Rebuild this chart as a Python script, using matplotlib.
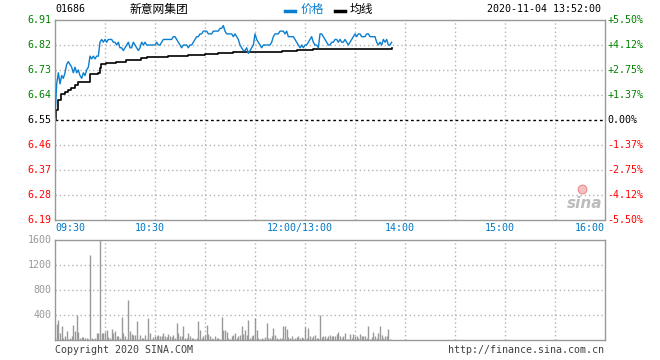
import matplotlib
matplotlib.use('Agg')
import matplotlib.pyplot as plt
import matplotlib.transforms as mtransforms
import numpy as np

# ---------------------------------------------------------------- data
code = '01686'
name = '新意网集团'
stamp = '2020-11-04 13:52:00'
prev_close = 6.55

price_ticks = [6.19, 6.28, 6.37, 6.46, 6.55, 6.64, 6.73, 6.82, 6.91]
pct_labels = ['-5.50%', '-4.12%', '-2.75%', '-1.37%', '0.00%',
              '+1.37%', '+2.75%', '+4.12%', '+5.50%']
time_ticks = [0, 60, 150, 210, 270, 330]
time_labels = ['09:30', '10:30', '12:00/13:00', '14:00', '15:00', '16:00']
vol_ticks = [400, 800, 1200, 1600]

# one value per minute, 09:30 .. 13:52 (lunch removed)
price = [6.56, 6.68, 6.72, 6.68, 6.71, 6.70, 6.72, 6.75, 6.76, 6.75,
         6.74, 6.72, 6.74, 6.72, 6.73, 6.71, 6.70, 6.72, 6.71, 6.73,
         6.74, 6.78, 6.77, 6.78, 6.77, 6.78, 6.78, 6.83, 6.84, 6.83,
         6.84, 6.83, 6.84, 6.84, 6.84, 6.83, 6.83, 6.82, 6.83, 6.81,
         6.81, 6.80, 6.81, 6.82, 6.83, 6.81, 6.81, 6.83, 6.82, 6.81,
         6.80, 6.81, 6.83, 6.82, 6.83, 6.82, 6.82, 6.82, 6.82, 6.82,
         6.82, 6.83, 6.82, 6.82, 6.83, 6.84, 6.84, 6.84, 6.84, 6.84,
         6.84, 6.85, 6.85, 6.84, 6.83, 6.82, 6.81, 6.82, 6.82, 6.82,
         6.81, 6.82, 6.82, 6.83, 6.84, 6.85, 6.85, 6.86, 6.86, 6.87,
         6.87, 6.87, 6.86, 6.86, 6.86, 6.87, 6.87, 6.87, 6.87, 6.88,
         6.88, 6.89, 6.87, 6.86, 6.86, 6.86, 6.86, 6.85, 6.86, 6.85,
         6.84, 6.82, 6.81, 6.80, 6.80, 6.81, 6.79, 6.80, 6.81, 6.82,
         6.86, 6.84, 6.83, 6.82, 6.81, 6.82, 6.82, 6.82, 6.82, 6.82,
         6.83, 6.85, 6.86, 6.86, 6.86, 6.87, 6.87, 6.87, 6.86, 6.87,
         6.85, 6.85, 6.85, 6.85, 6.84, 6.83, 6.82, 6.81, 6.82, 6.81,
         6.82, 6.82, 6.83, 6.84, 6.85, 6.83, 6.82, 6.82, 6.81, 6.86,
         6.86, 6.85, 6.84, 6.83, 6.82, 6.82, 6.83, 6.83, 6.84, 6.84,
         6.83, 6.84, 6.83, 6.83, 6.84, 6.83, 6.82, 6.83, 6.84, 6.85,
         6.86, 6.85, 6.86, 6.86, 6.85, 6.85, 6.85, 6.86, 6.86, 6.85,
         6.85, 6.85, 6.85, 6.83, 6.82, 6.83, 6.82, 6.84, 6.83, 6.84,
         6.82, 6.82, 6.83]

# average line, read at its steps (minute, price)
avg_min = [0, 0.4, 1.8, 3.8, 5.8, 7.8, 9.8, 11.8, 13.8, 19.8, 20.8, 25.8,
           26.8, 27.8, 30.8, 36.8, 42.8, 51.8, 55, 68, 80, 90, 98, 102,
           107, 136, 145, 155, 180.6, 202]
avg_val = [6.55, 6.586, 6.622, 6.644, 6.652, 6.658, 6.665, 6.676, 6.688,
           6.688, 6.716, 6.72, 6.737, 6.752, 6.755, 6.76, 6.766, 6.772,
           6.776, 6.78, 6.784, 6.788, 6.79, 6.792, 6.796, 6.798, 6.802,
           6.804, 6.806, 6.808]

volume = [0, 256, 320, 110, 224, 30, 70, 150, 20, 40,
          70, 235, 150, 395, 130, 30, 50, 50, 25, 40,
          20, 1360, 40, 20, 40, 110, 110, 1600, 110, 120,
          130, 160, 50, 40, 170, 120, 140, 60, 60, 40,
          370, 110, 60, 20, 640, 150, 90, 80, 80, 300,
          20, 80, 40, 40, 80, 20, 360, 120, 20, 50,
          60, 60, 80, 60, 70, 120, 60, 50, 90, 65,
          50, 80, 40, 280, 120, 60, 70, 224, 40, 30,
          110, 60, 30, 40, 20, 40, 310, 160, 40, 70,
          80, 245, 100, 60, 40, 20, 70, 40, 40, 20,
          370, 160, 160, 130, 40, 20, 70, 80, 120, 30,
          60, 80, 230, 90, 160, 80, 320, 40, 60, 80,
          360, 160, 30, 20, 30, 20, 50, 270, 40, 30,
          60, 190, 80, 40, 20, 40, 30, 220, 230, 170,
          50, 40, 60, 20, 30, 50, 60, 40, 50, 40,
          210, 30, 200, 70, 40, 60, 80, 30, 40, 400,
          50, 70, 60, 40, 70, 80, 60, 60, 60, 100,
          130, 70, 40, 70, 120, 20, 20, 90, 40, 100,
          70, 60, 40, 100, 60, 60, 60, 40, 224, 20,
          50, 130, 60, 40, 110, 224, 80, 40, 60, 60,
          180, 20, 0]

# ---------------------------------------------------------------- style
W, H = 660, 360
mono = 'DejaVu Sans Mono'
cjk = ['Noto Sans CJK SC', 'DejaVu Sans']
green, red, blue = '#008000', '#ff0000', '#0a7fcf'
frame = '#999999'
grid_kw = dict(color='#b4b4b4', lw=1, ls=(0, (1, 2)))


def px_axes(fig, left, top, right, bottom):
    return fig.add_axes([left / W, 1 - bottom / H, (right - left) / W, (bottom - top) / H])


fig = plt.figure(figsize=(W / 100, H / 100), dpi=100)
fig.patch.set_facecolor('white')

# ---------------------------------------------------------------- price panel
ax = px_axes(fig, 55, 20, 605, 220)
x = np.arange(len(price))
ax.set_xlim(0, 330)
ax.set_ylim(price_ticks[0], price_ticks[-1])
for t in range(30, 330, 30):
    ax.axvline(t, **grid_kw, zorder=1)
for p in price_ticks[1:-1]:
    if p == prev_close:
        ax.axhline(p, color='black', lw=1, ls=(0, (2, 2)), zorder=1)
    else:
        ax.axhline(p, **grid_kw, zorder=1)
ax.plot(x, price, color=blue, lw=1.0, zorder=3)
ax.plot(avg_min, avg_val, color='black', lw=1.2, drawstyle='steps-post', zorder=2)

ax.set_xticks([])
ax.set_yticks([])
for s in ax.spines.values():
    s.set_color(frame)
    s.set_linewidth(1)

ytr = mtransforms.blended_transform_factory(ax.transAxes, ax.transData)
for p, lab in zip(price_ticks, pct_labels):
    c = 'black' if p == prev_close else (green if p > prev_close else red)
    ax.text(-0.006, p, f'{p:.2f}', transform=ytr, ha='right', va='center',
            color=c, fontsize=7.2, family=mono)
    ax.text(1.004, p, lab, transform=ytr, ha='left', va='center',
            color=c, fontsize=7.2, family=mono)

xtr = mtransforms.blended_transform_factory(ax.transData, ax.transAxes)
for i, (t, lab) in enumerate(zip(time_ticks, time_labels)):
    if i == 0:
        ha, tt = 'left', t
    elif i == len(time_ticks) - 1:
        ha, tt = 'right', t
    else:
        ha, tt = 'center', t - 3
    ax.text(tt, -0.04, lab, transform=xtr, ha=ha, va='center',
            color='#0078c8', fontsize=7.2, family=mono)

# sina watermark
ax.text(0.996, 0.045, 'sina', transform=ax.transAxes, ha='right', va='bottom',
        fontsize=11, fontstyle='italic', fontweight='bold', color='#bcbcbc', family='DejaVu Sans')
ax.scatter([0.958], [0.155], s=40, transform=ax.transAxes, facecolor='#f6c0c0',
           edgecolor='#e89090', lw=0.8, zorder=4)

# ---------------------------------------------------------------- volume panel
vx = px_axes(fig, 55, 240, 605, 340)
vx.set_xlim(0, 330)
vx.set_ylim(0, 1600)
for t in range(30, 330, 30):
    vx.axvline(t, **grid_kw, zorder=1)
for v in vol_ticks[:-1]:
    vx.axhline(v, **grid_kw, zorder=1)
vx.vlines(np.arange(len(volume)), 0, volume, color='#999999', lw=1, zorder=2)
vx.set_xticks([])
vx.set_yticks([])
for s in vx.spines.values():
    s.set_color(frame)
    s.set_linewidth(1)
vtr = mtransforms.blended_transform_factory(vx.transAxes, vx.transData)
for v in vol_ticks:
    vx.text(-0.006, v, str(v), transform=vtr, ha='right', va='center',
            color='#999999', fontsize=7.2, family=mono)

# ---------------------------------------------------------------- header / footer
fig.text(55 / W, 1 - 9 / H, code, ha='left', va='center', fontsize=7.2, family=mono, color='black')
fig.text(130 / W, 1 - 9 / H, name, ha='left', va='center', fontsize=8.5, family=cjk, color='black')
fig.add_artist(plt.Line2D([285 / W, 295 / W], [1 - 11 / H] * 2, color=blue, lw=2.5))
fig.text(301 / W, 1 - 9 / H, '价格', ha='left', va='center', fontsize=8.5, family=cjk, color=blue)
fig.add_artist(plt.Line2D([335 / W, 345 / W], [1 - 11 / H] * 2, color='black', lw=2.5))
fig.text(350 / W, 1 - 9 / H, '均线', ha='left', va='center', fontsize=8.5, family=cjk, color='black')
fig.text(601 / W, 1 - 9 / H, stamp, ha='right', va='center', fontsize=7.2, family=mono, color='black')

fig.text(55 / W, 1 - 350 / H, 'Copyright 2020 SINA.COM', ha='left', va='center',
         fontsize=7.2, family=mono, color='#404040')
fig.text(604 / W, 1 - 350 / H, 'http://finance.sina.com.cn', ha='right', va='center',
         fontsize=7.2, family=mono, color='#404040')

fig.savefig('out.png', dpi=100)
